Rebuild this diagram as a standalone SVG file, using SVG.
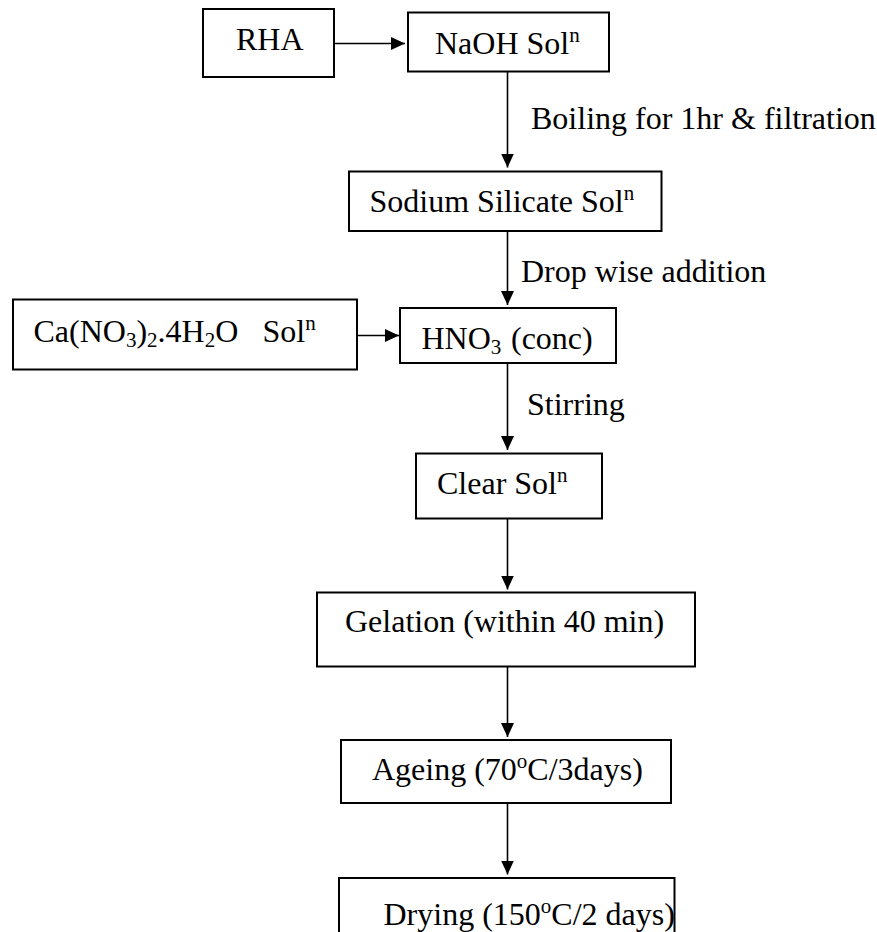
<svg xmlns="http://www.w3.org/2000/svg" width="877" height="932" viewBox="0 0 877 932">
<defs>
<style>
.box{fill:#fff;stroke:#000;stroke-width:2}
.t{font-family:"Liberation Serif","Times New Roman",serif;font-size:32px;fill:#000}
.s{font-size:21px}
.c{stroke:#000;stroke-width:1.6;fill:none;marker-end:url(#ah)}
</style>
<marker id="ah" markerUnits="userSpaceOnUse" markerWidth="15" markerHeight="14" refX="14" refY="6.5" orient="auto">
<path d="M0,0 L14,6.5 L0,13 z" fill="#000"/>
</marker>
</defs>
<rect width="877" height="932" fill="#fff"/>
<g id="connectors">
<line class="c" x1="334" y1="43.5" x2="405" y2="43.5"/>
<line class="c" x1="507.5" y1="71.5" x2="507.5" y2="167.5"/>
<line class="c" x1="507.5" y1="231" x2="507.5" y2="305"/>
<line class="c" x1="357" y1="335.5" x2="399" y2="335.5"/>
<line class="c" x1="507.5" y1="363" x2="507.5" y2="450"/>
<line class="c" x1="507.5" y1="518.5" x2="507.5" y2="589.5"/>
<line class="c" x1="507.5" y1="666.5" x2="507.5" y2="737"/>
<line class="c" x1="507.5" y1="803" x2="507.5" y2="874.5"/>
</g>
<g id="labels">
<text class="t" x="531" y="128.5">Boiling for 1hr &amp; filtration</text>
<text class="t" x="521" y="281.5">Drop wise addition</text>
<text class="t" x="527" y="414.5">Stirring</text>
</g>
<g id="rha">
<rect class="box" x="203" y="9" width="131" height="68"/>
<text class="t" x="236" y="49.5">RHA</text>
</g>
<g id="naoh">
<rect class="box" x="408" y="12.5" width="201" height="59"/>
<text class="t" x="435" y="53.5">NaOH Sol<tspan class="s" dy="-12">n</tspan></text>
</g>
<g id="sodium">
<rect class="box" x="349" y="171.5" width="312.5" height="59.5"/>
<text class="t" x="369.5" y="211.5">Sodium Silicate Sol<tspan class="s" dy="-12">n</tspan></text>
</g>
<g id="calcium">
<rect class="box" x="13" y="299.5" width="344" height="70"/>
<text class="t" x="33.5" y="341.5">Ca(NO<tspan class="s" dy="5">3</tspan><tspan dy="-5">)</tspan><tspan class="s" dy="5">2</tspan><tspan dy="-5">.4H</tspan><tspan class="s" dy="5">2</tspan><tspan dy="-5">O</tspan><tspan x="262.5">Sol</tspan><tspan class="s" dy="-12">n</tspan></text>
</g>
<g id="hno3">
<rect class="box" x="400" y="308" width="216" height="55"/>
<text class="t" x="421.5" y="348.5">HNO<tspan class="s" dy="5">3</tspan><tspan dy="-5" x="511">(conc)</tspan></text>
</g>
<g id="clear">
<rect class="box" x="416" y="453.5" width="186" height="65"/>
<text class="t" x="437" y="493.5">Clear Sol<tspan class="s" dy="-12">n</tspan></text>
</g>
<g id="gelation">
<rect class="box" x="317" y="592.5" width="378" height="74"/>
<text class="t" x="345" y="631.5">Gelation (within 40 min)</text>
</g>
<g id="ageing">
<rect class="box" x="341" y="740" width="330" height="63"/>
<text class="t" x="372" y="780">Ageing (70<tspan class="s" dy="-12">o</tspan><tspan dy="12">C/3days)</tspan></text>
</g>
<g id="drying">
<rect class="box" x="339" y="878" width="335.5" height="70"/>
<text class="t" x="383.5" y="925">Drying (150<tspan class="s" dy="-12">o</tspan><tspan dy="12">C/2 days)</tspan></text>
</g>
</svg>
